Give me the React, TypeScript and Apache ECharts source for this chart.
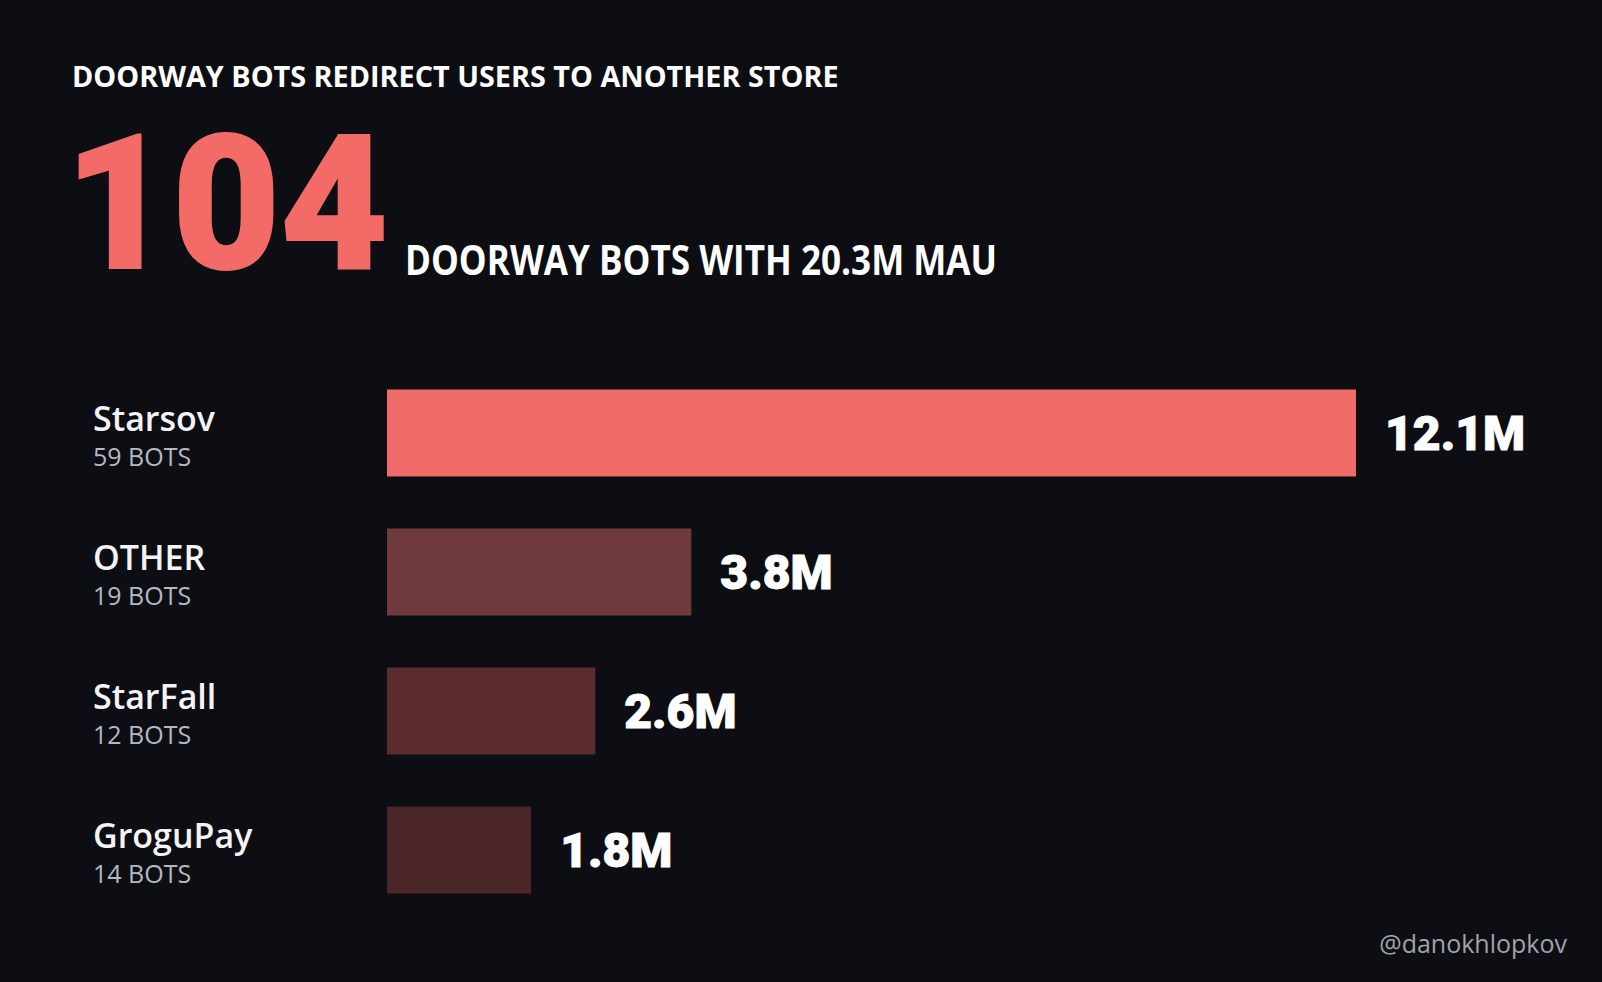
import { useEffect, useRef } from 'react'
import * as echarts from 'echarts'

const CATEGORIES = ['Starsov', 'OTHER', 'StarFall', 'GroguPay']
const BOT_COUNTS = [59, 19, 12, 14]
const MAU_MILLIONS = [12.1, 3.8, 2.6, 1.8]
const BAR_COLORS = ['#f06c68', '#6e3a3b', '#5c2d30', '#4a2628']

const HEADLINE = 'DOORWAY BOTS REDIRECT USERS TO ANOTHER STORE'
const BIG_NUMBER = '104'
const SUBHEAD = 'DOORWAY BOTS WITH 20.3M MAU'
const HANDLE = '@danokhlopkov'

const SANS = 'Open Sans'
const HEAVY = 'Roboto'

export default function App() {
  const elRef = useRef<HTMLDivElement>(null)

  useEffect(() => {
    document.body.style.margin = '0'
    document.body.style.background = '#0d0e13'
    if (!elRef.current) return
    const chart = echarts.init(elRef.current, null, { renderer: 'svg' })

    chart.setOption({
      animation: false,
      backgroundColor: '#0d0e13',
      grid: { left: 387, width: 969, top: 363.5, height: 556, containLabel: false },
      xAxis: {
        type: 'value',
        min: 0,
        max: MAU_MILLIONS[0],
        show: false,
        splitLine: { show: false },
      },
      yAxis: {
        type: 'category',
        inverse: true,
        data: CATEGORIES.map((c, i) => `{name|${c}}\n{sub|${BOT_COUNTS[i]} BOTS}`),
        axisLine: { show: false },
        axisTick: { show: false },
        axisLabel: {
          align: 'left',
          margin: 294,
          padding: [6, 0, 0, 0],
          rich: {
            name: { fontFamily: SANS, fontWeight: 600, fontSize: 34, color: '#f4f4f6', lineHeight: 40 },
            sub: { fontFamily: SANS, fontWeight: 400, fontSize: 25, color: '#b4b8c0', lineHeight: 36 },
          },
        },
      },
      series: [
        {
          type: 'bar',
          barWidth: 87,
          data: MAU_MILLIONS.map((v, i) => ({ value: v, itemStyle: { color: BAR_COLORS[i] } })),
          label: {
            show: true,
            position: 'right',
            distance: 29,
            formatter: '{c}M',
            fontFamily: HEAVY,
            fontWeight: 900,
            fontSize: 48,
            color: '#ffffff',
            textBorderColor: '#ffffff',
            textBorderWidth: 1,
          },
        },
      ],
      graphic: [
        {
          type: 'text',
          x: 72,
          y: 75,
          style: {
            text: HEADLINE,
            fill: '#ffffff',
            fontFamily: SANS,
            fontWeight: 700,
            fontSize: 28.8,
            verticalAlign: 'middle',
          },
        },
        {
          type: 'text',
          x: 64.5,
          y: 204,
          scaleX: 0.99,
          style: {
            text: BIG_NUMBER,
            fill: '#f26b67',
            stroke: '#f26b67',
            lineWidth: 2,
            fontFamily: HEAVY,
            fontWeight: 900,
            fontSize: 188,
            verticalAlign: 'middle',
          },
        },
        {
          type: 'text',
          x: 405,
          y: 258.5,
          scaleX: 0.835,
          style: {
            text: SUBHEAD,
            fill: '#ffffff',
            fontFamily: SANS,
            fontWeight: 700,
            fontSize: 42,
            verticalAlign: 'middle',
          },
        },
        {
          type: 'text',
          x: 1567,
          y: 943,
          style: {
            text: HANDLE,
            fill: '#a0a3a9',
            fontFamily: SANS,
            fontWeight: 400,
            fontSize: 25,
            align: 'right',
            verticalAlign: 'middle',
          },
        },
      ],
    })

    return () => chart.dispose()
  }, [])

  return <div ref={elRef} style={{ width: 1602, height: 982 }} />
}
